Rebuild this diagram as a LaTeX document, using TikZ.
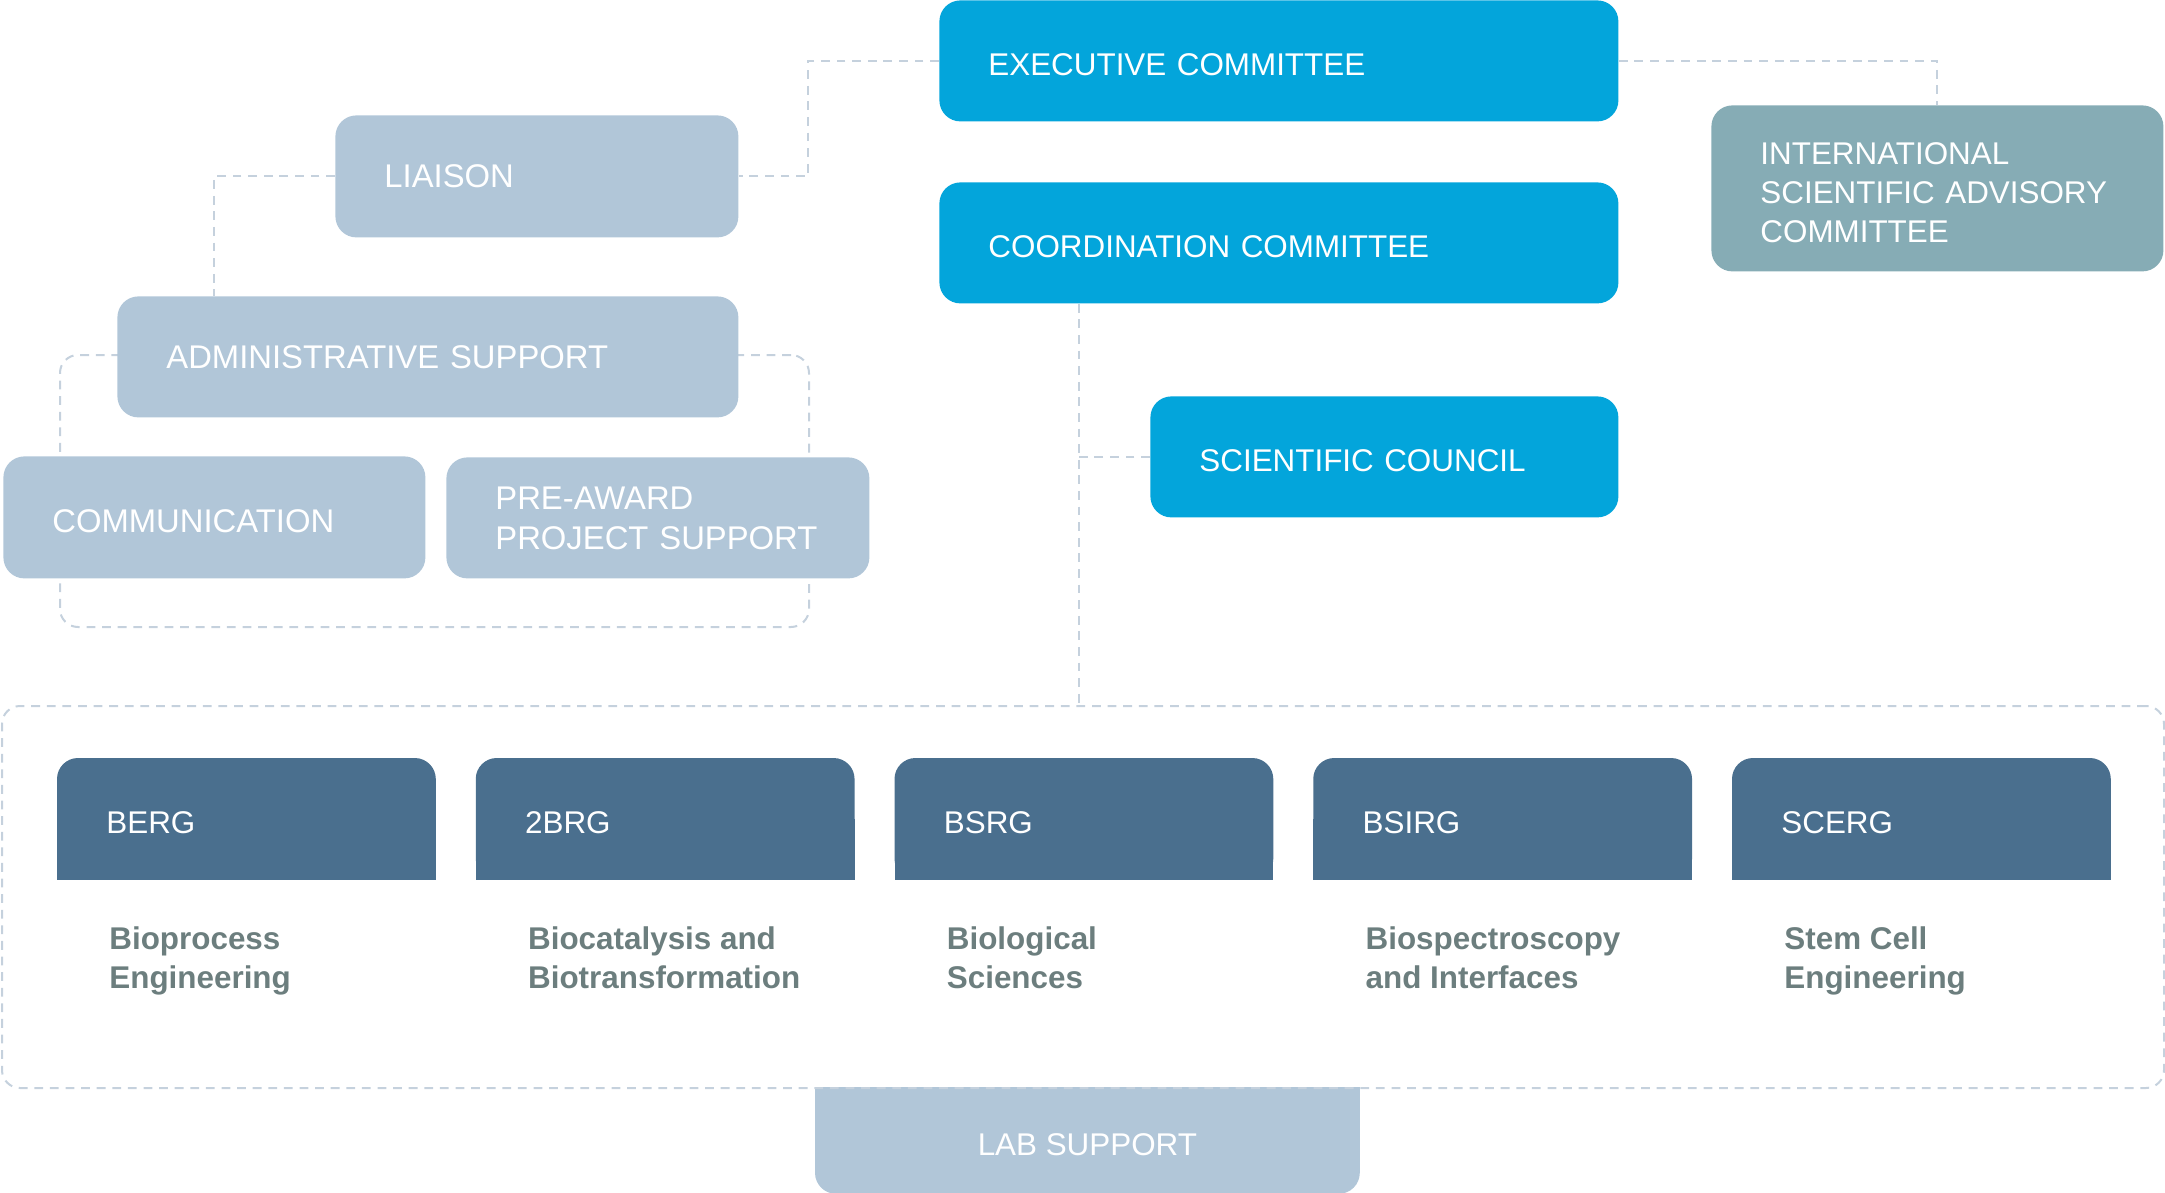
\documentclass[tikz,border=0pt]{standalone}
\usepackage{fontspec}
\setmainfont{Liberation Sans}
\usetikzlibrary{backgrounds}
\definecolor{execblue}{RGB}{3,165,219}
\definecolor{supportgrey}{RGB}{177,198,216}
\definecolor{advisorygrey}{RGB}{134,172,181}
\definecolor{groupblue}{RGB}{74,111,142}
\definecolor{desctext}{RGB}{108,126,126}
\definecolor{linkgrey}{RGB}{197,209,221}
\begin{document}
\begin{tikzpicture}[x=0.5pt, y=-0.5pt,
    unit/.style={anchor=north west, rounded corners=10.5pt, inner xsep=24.5pt, inner ysep=0pt,
      align=left, text=white, font=\fontsize{15.7}{19.5}\selectfont},
    lowered/.style={execute at begin node={\rule{0pt}{15.2pt}}},
    exec/.style={unit, lowered, fill=execblue},
    support/.style={unit, fill=supportgrey, font=\fontsize{16.4}{20}\selectfont},
    advisory/.style={unit, lowered, fill=advisorygrey},
    group/.style={unit, lowered, minimum width=189pt, text width=140pt, minimum height=60.5pt},
    desc/.style={anchor=north west, inner sep=0pt, align=left, text=desctext,
      font=\fontsize{15.7}{19.5}\selectfont\bfseries},
    link/.style={draw=linkgrey, line width=1pt, dash pattern=on 4.4pt off 3.4pt},
    frame/.style={link, anchor=north west, rounded corners=9pt, inner sep=0pt}]
        \useasboundingbox (0,0) rectangle (2165,1193);

        % Dashed frames
        \node[frame, minimum width=374.5pt, minimum height=136pt] (adminframe) at (59,354) {};
        \node[frame, minimum width=1081pt, minimum height=191pt] (labframe) at (1,705) {};

        % Committees
        \node[exec, minimum width=339.5pt, text width=290.5pt, minimum height=60.5pt] (exec) at (939,0) {EXECUTIVE COMMITTEE};
        \node[exec, minimum width=339.5pt, text width=290.5pt, minimum height=60.5pt] (coord) at (939,182) {COORDINATION COMMITTEE};
        \node[exec, minimum width=234pt, text width=185pt, minimum height=60.5pt] (council) at (1150,396) {SCIENTIFIC COUNCIL};
        \node[advisory, minimum width=226pt, text width=177pt, minimum height=83pt] (isac) at (1711,105) {INTERNATIONAL\\SCIENTIFIC ADVISORY\\COMMITTEE};

        % Support units
        \node[support, minimum width=201.5pt, text width=152.5pt, minimum height=61pt] (liaison) at (335,115) {LIAISON};
        \node[support, minimum width=310.5pt, text width=261.5pt, minimum height=60.5pt] (admin) at (117,296) {ADMINISTRATIVE SUPPORT};
        \node[support, lowered, minimum width=211pt, text width=162pt, minimum height=61pt] (comm) at (3,456) {COMMUNICATION};
        \node[support, minimum width=211.5pt, text width=162.5pt, minimum height=60.5pt] (preaward) at (446,457) {PRE-AWARD\\\mbox{PROJECT SUPPORT}};

        % Lab support: square top, round bottom
        \node[unit, lowered, align=center, minimum width=272pt, minimum height=53pt] (lab) at (815,1087) {LAB SUPPORT};
        \begin{scope}[on background layer]
            \fill[supportgrey, rounded corners=10.5pt] (lab.north west) rectangle (lab.south east);
            \fill[supportgrey] (lab.north west) rectangle (lab.east);
        \end{scope}

        % Research groups
        \foreach \name/\abbr/\desc [count=\i from 0] in {berg/BERG/{Bioprocess\\Engineering},
            tbrg/2BRG/{Biocatalysis and\\Biotransformation}, bsrg/BSRG/{Biological\\Sciences},
            bsirg/BSIRG/{Biospectroscopy\\and Interfaces}, scerg/SCERG/{Stem Cell\\Engineering}} {
            \node[group] (\name) at (57+418.75*\i, 758) {\abbr};
            \node[desc] (\name-desc) at (109+418.75*\i, 926) {\desc};
            \begin{scope}[on background layer]
                \fill[groupblue, rounded corners=10.5pt] (\name.north west) rectangle (\name.south east);
                \fill[groupblue] (\name.west) rectangle (\name.south east);
            \end{scope}
        }

        % Links
        \begin{scope}[on background layer]
            \draw[link] (exec.west) -- ++(-131,0) |- (liaison.east);
            \draw[link] (liaison.west) -- ++(-121,0) coordinate (liaisonknee) -- (liaisonknee |- admin.north);
            \draw[link] (exec.east) -| (isac.north);
            \coordinate (trunk) at ([xshift=70pt]coord.south west);
            \draw[link] (trunk) -- (trunk |- labframe.north);
            \draw[link] (council.west) -- (council.west -| trunk);
        \end{scope}
    \end{tikzpicture}
\end{document}
